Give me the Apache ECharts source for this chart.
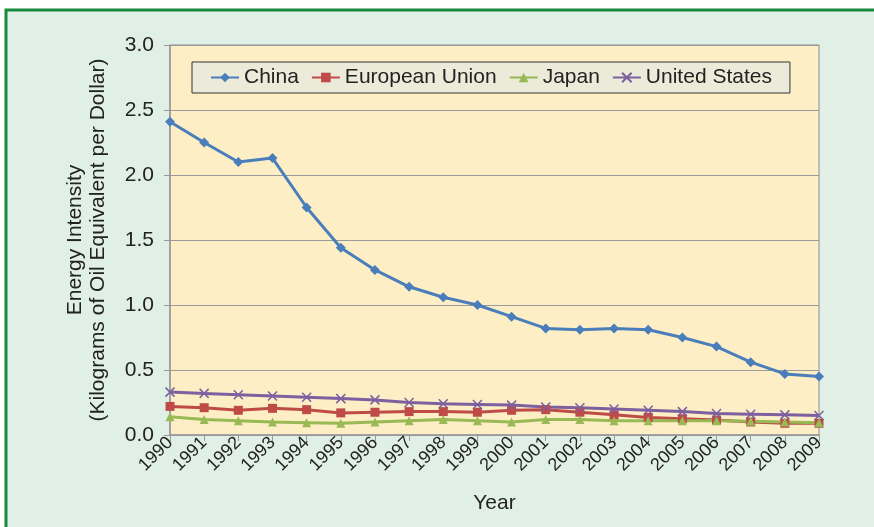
<!DOCTYPE html>
<html lang="en">
  <head>
    <meta charset="UTF-8" />
    <title>Energy Intensity</title>
    <style>
      body {
        margin: 0;
        background: #fff;
      }
      #chart {
        width: 874px;
        height: 527px;
      }
    </style>
    <script src="https://cdn.jsdelivr.net/npm/echarts@6/dist/echarts.min.js"></script>
  </head>
  <body>
    <div id="chart"></div>
    <script>
      const years = [
        "1990", "1991", "1992", "1993", "1994", "1995", "1996", "1997", "1998", "1999",
        "2000", "2001", "2002", "2003", "2004", "2005", "2006", "2007", "2008", "2009",
      ];
      const china = [
        2.41, 2.25, 2.1, 2.13, 1.75, 1.44, 1.27, 1.14, 1.06, 1.0,
        0.91, 0.82, 0.81, 0.82, 0.81, 0.75, 0.68, 0.56, 0.47, 0.45,
      ];
      const eu = [
        0.22, 0.21, 0.19, 0.205, 0.195, 0.17, 0.175, 0.18, 0.18, 0.175,
        0.19, 0.195, 0.175, 0.155, 0.135, 0.125, 0.115, 0.1, 0.09, 0.09,
      ];
      const japan = [
        0.14, 0.12, 0.11, 0.1, 0.095, 0.09, 0.1, 0.11, 0.12, 0.11,
        0.1, 0.12, 0.12, 0.11, 0.11, 0.11, 0.11, 0.105, 0.1, 0.095,
      ];
      const us = [
        0.33, 0.32, 0.31, 0.3, 0.29, 0.28, 0.27, 0.25, 0.24, 0.235,
        0.23, 0.215, 0.21, 0.2, 0.19, 0.18, 0.165, 0.16, 0.155, 0.15,
      ];
      const yTicks = [0, 0.5, 1.0, 1.5, 2.0, 2.5, 3.0];

      const font = "Liberation Sans, Arial, sans-serif";
      const cross = "path://M0,0L10,10M10,0L0,10";

      function line(name, data, color, symbol, size) {
        return {
          name: name,
          type: "line",
          data: data,
          symbol: symbol,
          symbolSize: size,
          showSymbol: true,
          lineStyle: { color: color, width: 3 },
          itemStyle:
            symbol === cross
              ? { color: "transparent", borderColor: color, borderWidth: 1.5 }
              : { color: color },
        };
      }

      const chart = echarts.init(document.getElementById("chart"));
      chart.setOption({
        animation: false,
        backgroundColor: "#ffffff",
        textStyle: { fontFamily: font },
        graphic: [
          {
            type: "rect",
            z: -10,
            shape: { x: 6, y: 10, width: 900, height: 600 },
            style: { fill: "#e1f0e6", stroke: "#178a3c", lineWidth: 3 },
          },
        ],
        legend: {
          left: 192,
          top: 62,
          padding: [5, 18, 5, 18],
          backgroundColor: "#ecebd9",
          borderColor: "#333",
          borderWidth: 1,
          borderRadius: 0,
          itemGap: 12,
          itemWidth: 28,
          itemHeight: 12,
          textStyle: { fontSize: 21, color: "#222", fontFamily: font },
        },
        grid: {
          left: 170,
          right: 55,
          top: 45,
          bottom: 92,
          show: true,
          backgroundColor: "#fdeec5",
          borderColor: "#8c8c8c",
          borderWidth: 1,
        },
        xAxis: {
          type: "category",
          data: years,
          boundaryGap: false,
          name: "Year",
          nameLocation: "middle",
          nameGap: 58,
          nameTextStyle: { fontSize: 21, color: "#222" },
          axisLine: { lineStyle: { color: "#9a9a9a", width: 1.5 } },
          axisTick: { length: 6, interval: 0, lineStyle: { color: "#9a9a9a" } },
          axisLabel: {
            rotate: 45,
            interval: 0,
            hideOverlap: false,
            fontSize: 18,
            color: "#222",
            margin: 5,
          },
        },
        yAxis: {
          type: "value",
          min: yTicks[0],
          max: yTicks[yTicks.length - 1],
          interval: 0.5,
          name: "Energy Intensity\n(Kilograms of Oil Equivalent per Dollar)",
          nameLocation: "middle",
          nameRotate: 90,
          nameGap: 60,
          nameTextStyle: { fontSize: 21, color: "#222", lineHeight: 23 },
          axisLine: { show: true, lineStyle: { color: "#9a9a9a", width: 1.5 } },
          axisTick: { show: true, length: 6, lineStyle: { color: "#9a9a9a" } },
          axisLabel: {
            fontSize: 21,
            color: "#222",
            margin: 16,
            formatter: (v) => v.toFixed(1),
          },
          splitLine: { lineStyle: { color: "#9b9b9b", width: 1.2 } },
        },
        series: [
          line("China", china, "#4a7ebb", "diamond", 10),
          line("European Union", eu, "#be4b48", "rect", 9),
          line("Japan", japan, "#98b954", "triangle", 9),
          line("United States", us, "#7d60a0", cross, 9),
        ],
      });
    </script>
  </body>
</html>
